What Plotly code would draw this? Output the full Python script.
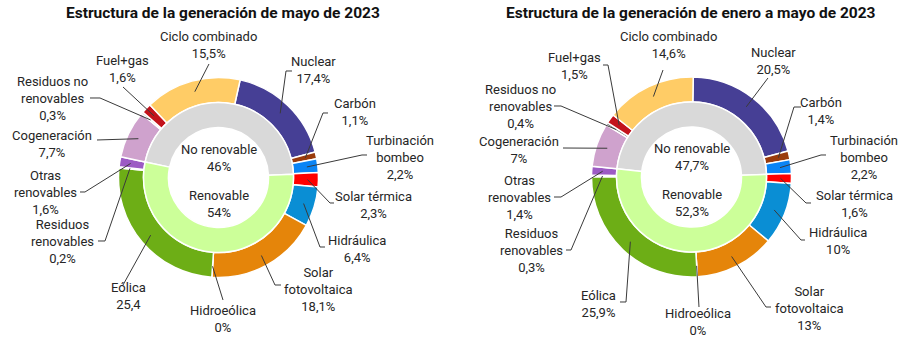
import math
import plotly.graph_objects as go

# ---- data -------------------------------------------------------------
categories = [
    "Nuclear", "Carbón", "Turbinación bombeo", "Solar térmica", "Hidráulica",
    "Solar fotovoltaica", "Hidroeólica", "Eólica", "Residuos renovables",
    "Otras renovables", "Cogeneración", "Residuos no renovables", "Fuel+gas",
    "Ciclo combinado",
]
may_2023 = [17.4, 1.1, 2.2, 2.3, 6.4, 18.1, 0, 25.4, 0.2, 1.6, 7.7, 0.3, 1.6, 15.5]
jan_may_2023 = [20.5, 1.4, 2.2, 1.6, 10, 13, 0, 25.9, 0.3, 1.4, 7, 0.4, 1.5, 14.6]

groups = ["No renovable", "Renovable"]
may_groups = [46, 54]
jan_may_groups = [47.7, 52.3]

titles = [
    "Estructura de la generación de mayo de 2023",
    "Estructura de la generación de enero a mayo de 2023",
]

# ---- styling ----------------------------------------------------------
W, H = 922, 337
FONT = "Roboto"
TEXT_COLOR = "#262626"
LINE_COLOR = "#3a3a3a"

colors = {
    "Nuclear": "#463F95",
    "Carbón": "#9A3B0C",
    "Turbinación bombeo": "#0A84F5",
    "Solar térmica": "#FF0000",
    "Hidráulica": "#0A8ED4",
    "Solar fotovoltaica": "#E5850A",
    "Hidroeólica": "#1F9E89",
    "Eólica": "#6DAE16",
    "Residuos renovables": "#4E7D1C",
    "Otras renovables": "#9C5BC4",
    "Cogeneración": "#CFA2CD",
    "Residuos no renovables": "#7F7F7F",
    "Fuel+gas": "#C3121B",
    "Ciclo combinado": "#FFCC66",
}
group_colors = ["#D9D9D9", "#CCFF99"]

wrapped = {
    "Turbinación bombeo": "Turbinación<br>bombeo",
    "Solar fotovoltaica": "Solar<br>fotovoltaica",
    "Residuos renovables": "Residuos<br>renovables",
    "Otras renovables": "Otras<br>renovables",
    "Residuos no renovables": "Residuos no<br>renovables",
}

# leading non-renewable slices that sit before "Nuclear" going clockwise
lead_from = categories.index("Cogeneración")

R_OUT, R_MID, R_IN = 100, 75, 50
R_LEADER = 89

# per chart: centre (px), rotation, label layout {name: (x, y, [points toward label])}
charts = [
    dict(
        values=may_2023, gvalues=may_groups, title=titles[0],
        cx=218.5, cy=177.5, rotation=12.5, title_x=223,
        no_pct={"Eólica"},
        labels={
            "Nuclear": (313, 70, [(286, 71), (292, 71)]),
            "Carbón": (355, 111.5, [(323, 113), (328, 113)]),
            "Turbinación bombeo": (400, 157, [(362, 155), (367, 155)]),
            "Solar térmica": (373, 204.5, [(330, 203), (334, 203)]),
            "Hidráulica": (357, 248.5, [(320, 247), (325, 247)]),
            "Solar fotovoltaica": (318, 289, [(275, 285), (281, 285)]),
            "Hidroeólica": (223, 318.5, [(223, 300)]),
            "Eólica": (128, 295.5, [(123, 285)]),
            "Residuos renovables": (63, 241, [(105, 241), (98, 241)]),
            "Otras renovables": (45, 192, [(85, 192), (80, 192)]),
            "Cogeneración": (52, 144, [(97, 140)]),
            "Residuos no renovables": (52, 98, [(100, 98), (90, 98)]),
            "Fuel+gas": (123, 69.5, [(123, 87)]),
            "Ciclo combinado": (208, 45, [(209, 64)]),
        },
    ),
    dict(
        values=jan_may_2023, gvalues=jan_may_groups, title=titles[1],
        cx=691.5, cy=177, rotation=1, title_x=691,
        no_pct=set(),
        labels={
            "Nuclear": (773, 60.5, [(768, 78)]),
            "Carbón": (821, 111, [(794, 107), (801, 107)]),
            "Turbinación bombeo": (864, 157, [(821, 155), (826, 155)]),
            "Solar térmica": (854, 204, [(806, 203), (811, 203)]),
            "Hidráulica": (838, 241, [(801, 240), (805, 240)]),
            "Solar fotovoltaica": (809, 308, [(766, 307), (771, 307)]),
            "Hidroeólica": (698, 321.5, [(699, 307)]),
            "Eólica": (598, 303.5, [(626, 302), (620, 302)]),
            "Residuos renovables": (531, 250, [(571, 250), (566, 250)]),
            "Otras renovables": (519, 197.5, [(561, 197), (554, 197)]),
            "Cogeneración": (519, 150.5, [(563, 148)]),
            "Residuos no renovables": (520, 106, [(561, 106), (554, 106)]),
            "Fuel+gas": (574, 66, [(608, 65), (603, 65)]),
            "Ciclo combinado": (668, 45.5, [(663, 70)]),
        },
    ),
]


def px(x, y):
    return x / W, 1 - y / H


def fmt(v):
    return f"{v:g}".replace(".", ",")


fig = go.Figure()
shapes, annotations = [], []

for ch in charts:
    vals = ch["values"]
    total = sum(vals)
    cx, cy = ch["cx"], ch["cy"]
    rot = ch["rotation"]
    inner_rot = rot - 360 * sum(vals[lead_from:]) / total

    fig.add_trace(go.Pie(
        values=vals, labels=categories, sort=False, direction="clockwise",
        rotation=rot, hole=R_MID / R_OUT, textinfo="none", hoverinfo="skip",
        marker=dict(colors=[colors[c] for c in categories],
                    line=dict(color="white", width=1.5)),
        domain=dict(x=[(cx - R_OUT) / W, (cx + R_OUT) / W],
                    y=[(H - cy - R_OUT) / H, (H - cy + R_OUT) / H]),
        showlegend=False,
    ))
    fig.add_trace(go.Pie(
        values=ch["gvalues"], labels=groups, sort=False, direction="clockwise",
        rotation=inner_rot, hole=R_IN / R_MID, textinfo="none", hoverinfo="skip",
        marker=dict(colors=group_colors, line=dict(color="white", width=1.5)),
        domain=dict(x=[(cx - R_MID) / W, (cx + R_MID) / W],
                    y=[(H - cy - R_MID) / H, (H - cy + R_MID) / H]),
        showlegend=False,
    ))

    # outer labels with leader lines starting at each slice's mid-angle
    cum = 0.0
    for name, v in zip(categories, vals):
        a = math.radians(rot + 360 * (cum + v / 2) / total)
        cum += v
        sx, sy = cx + R_LEADER * math.sin(a), cy - R_LEADER * math.cos(a)
        lx, ly, pts = ch["labels"][name]
        path_pts = [px(sx, sy)] + [px(x, y) for x, y in pts]
        d = "M " + " L ".join(f"{x:.5f},{y:.5f}" for x, y in path_pts)
        shapes.append(dict(type="path", path=d, xref="paper", yref="paper",
                           line=dict(color=LINE_COLOR, width=1), layer="above"))
        suffix = "" if name in ch["no_pct"] else "%"
        ax, ay = px(lx, ly)
        annotations.append(dict(
            x=ax, y=ay, xref="paper", yref="paper", showarrow=False,
            text=f"{wrapped.get(name, name)}<br>{fmt(v)}{suffix}",
            xanchor="center", yanchor="middle", align="center",
            font=dict(family=FONT, size=13, color=TEXT_COLOR),
        ))

    # centre labels for the inner ring
    for g, gv, yc in zip(groups, ch["gvalues"], (cy - 20, cy + 26)):
        ax, ay = px(cx, yc)
        annotations.append(dict(
            x=ax, y=ay, xref="paper", yref="paper", showarrow=False,
            text=f"{g}<br>{fmt(gv)}%", xanchor="center", yanchor="middle",
            align="center", font=dict(family=FONT, size=13, color=TEXT_COLOR),
        ))

    tx, ty = px(ch["title_x"], 13)
    annotations.append(dict(
        x=tx, y=ty, xref="paper", yref="paper", showarrow=False,
        text=f"<b>{ch['title']}</b>", xanchor="center", yanchor="middle",
        font=dict(family=FONT, size=15.5, color="#111111"),
    ))

fig.update_layout(
    width=W, height=H, margin=dict(l=0, r=0, t=0, b=0),
    paper_bgcolor="white", plot_bgcolor="white",
    shapes=shapes, annotations=annotations, showlegend=False,
)

fig.write_html("out.html")
